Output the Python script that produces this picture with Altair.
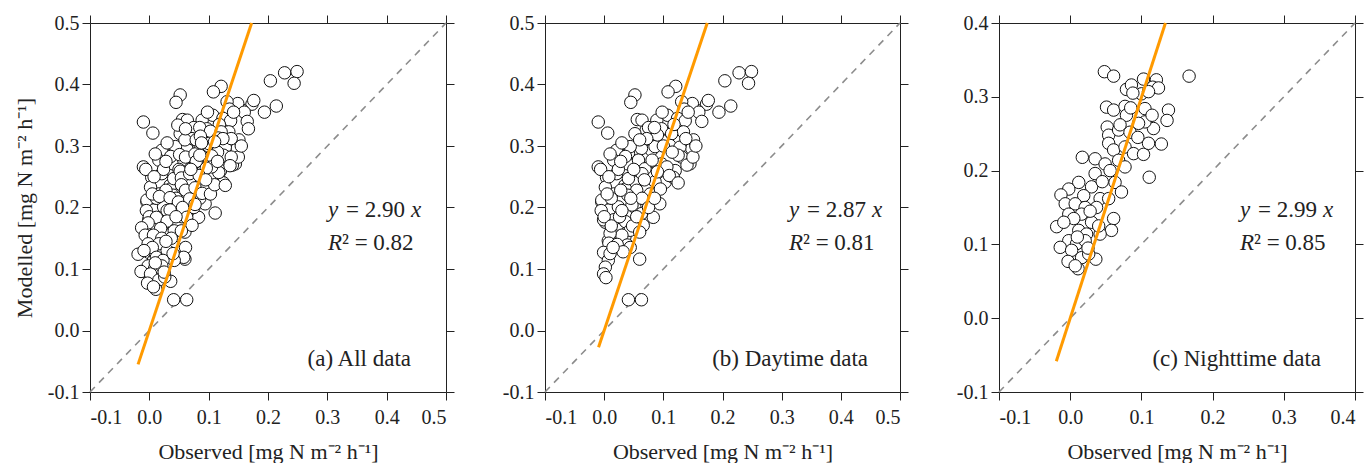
import altair as alt
import pandas as pd

# ---------------- data ----------------
# Daytime data (panel b)
B_X = [0.228, 0.249, 0.244, 0.204, 0.214, 0.194, 0.173, 0.176, 0.157, 0.149,
       0.121, 0.108, 0.131, 0.135, 0.052, 0.045, -0.010, 0.006, -0.010,
       0.056, 0.064, 0.089, 0.107, 0.124, 0.137, 0.071, 0.052, 0.097, 0.134, 0.114, 0.075,
       0.145, 0.148, 0.111, 0.080, 0.063, 0.021, 0.041, 0.097, 0.128, 0.044, 0.086, 0.151,
       0.040, 0.058, 0.097, 0.131, 0.145, 0.120, 0.083, 0.021, 0.004, 0.052, 0.069, 0.016,
       0.036, 0.081, 0.106, 0.140, -0.006, 0.024,
       0.035, 0.052, 0.016, 0.103, 0.117, 0.072, 0.002, 0.086, 0.036, 0.055, 0.078, 0.008,
       0.041, 0.064,
       0.002, 0.052, 0.094, 0.083, 0.063, 0.030, -0.004, 0.019, 0.008, 0.024, 0.047, 0.064,
       -0.004, 0.012, 0.040,
       0.002, 0.035, 0.066, 0.019, 0.007, 0.035, 0.024, 0.036, 0.016, -0.001, 0.044, 0.030,
       0.010, 0.048, 0.026,
       0.008, 0.039, 0.044, -0.001, 0.007, 0.002, -0.001, 0.003, 0.060, 0.041, 0.063, 0.010,
       0.090, 0.118, 0.100, 0.125, 0.150, 0.155, 0.138, 0.072, 0.060, 0.030,
       0.010, 0.028, 0.050, 0.090, 0.110, 0.125, 0.095, 0.068, 0.045, 0.028,
       0.005, -0.005, 0.000, 0.012, 0.030, 0.055, 0.075, 0.060, 0.022, 0.032,
       0.015, 0.085, 0.115, 0.160, 0.165, 0.142, 0.098, 0.085]
B_Y = [0.419, 0.421, 0.402, 0.406, 0.365, 0.355, 0.368, 0.374, 0.358, 0.369,
       0.397, 0.388, 0.372, 0.360, 0.383, 0.371, 0.339, 0.321, 0.266,
       0.343, 0.342, 0.342, 0.350, 0.345, 0.341, 0.326, 0.320, 0.328, 0.323, 0.320, 0.330,
       0.305, 0.296, 0.301, 0.293, 0.296, 0.293, 0.288, 0.309, 0.298, 0.299, 0.299, 0.310,
       0.271, 0.277, 0.271, 0.282, 0.271, 0.260, 0.255, 0.255, 0.249, 0.252, 0.263, 0.277,
       0.283, 0.277, 0.266, 0.269, 0.262, 0.262,
       0.236, 0.241, 0.222, 0.241, 0.249, 0.233, 0.233, 0.242, 0.230, 0.228, 0.222, 0.250,
       0.247, 0.255,
       0.195, 0.200, 0.206, 0.184, 0.190, 0.211, 0.209, 0.190, 0.196, 0.201, 0.204, 0.215,
       0.212, 0.215, 0.220,
       0.176, 0.168, 0.171, 0.162, 0.146, 0.152, 0.173, 0.177, 0.180, 0.180, 0.163, 0.155,
       0.158, 0.170, 0.185,
       0.142, 0.139, 0.135, 0.127, 0.114, 0.103, 0.092, 0.086, 0.116, 0.050, 0.050, 0.125,
       0.318, 0.335, 0.300, 0.285, 0.282, 0.300, 0.312, 0.312, 0.310, 0.305,
       0.287, 0.275, 0.262, 0.258, 0.252, 0.240, 0.230, 0.245, 0.215, 0.228,
       0.222, 0.195, 0.185, 0.170, 0.195, 0.185, 0.200, 0.160, 0.140, 0.128,
       0.135, 0.215, 0.290, 0.355, 0.340, 0.355, 0.355, 0.330]

# Nighttime data (panel c)
C_X = [0.048, 0.061, 0.167, 0.103, 0.121, 0.116, 0.124, 0.100, 0.079, 0.086, 0.110,
       0.051, 0.061, 0.077, 0.105, 0.138, 0.136, 0.117, 0.105, 0.079, 0.096,
       0.052, 0.054, 0.068, 0.084, 0.054, 0.061, 0.077, 0.089, 0.103, 0.110, 0.128, 0.111,
       0.017, 0.035, 0.049, 0.068, 0.077, 0.035, 0.056, 0.063, 0.072,
       0.012, -0.002, -0.013, 0.030, 0.019, 0.042, 0.054, -0.007, 0.007, 0.021, 0.037,
       -0.002, 0.016, 0.005, 0.030, 0.061, 0.058, 0.042, -0.019, -0.009, 0.012, 0.023,
       -0.002, -0.014, 0.009, 0.021, 0.002, 0.016, -0.003, 0.011, 0.036, 0.026, 0.007,
       0.028, 0.045, 0.040, 0.025, 0.085, 0.070, 0.095, 0.115, 0.088, 0.010]
C_Y = [0.334, 0.328, 0.328, 0.324, 0.323, 0.313, 0.312, 0.304, 0.310, 0.316, 0.307,
       0.286, 0.282, 0.287, 0.284, 0.282, 0.268, 0.257, 0.266, 0.275, 0.264,
       0.259, 0.248, 0.255, 0.252, 0.237, 0.228, 0.232, 0.223, 0.222, 0.237, 0.236, 0.191,
       0.218, 0.216, 0.209, 0.214, 0.205, 0.196, 0.200, 0.184, 0.171,
       0.184, 0.175, 0.167, 0.178, 0.166, 0.162, 0.162, 0.155, 0.155, 0.150, 0.150,
       0.141, 0.141, 0.135, 0.130, 0.135, 0.119, 0.114, 0.124, 0.130, 0.119, 0.114,
       0.105, 0.096, 0.101, 0.105, 0.092, 0.082, 0.077, 0.067, 0.080, 0.087, 0.071,
       0.145, 0.185, 0.125, 0.095, 0.285, 0.262, 0.245, 0.275, 0.305, 0.110]

# All data (panel a) = daytime + nighttime
A_X = B_X + C_X
A_Y = B_Y + C_Y

PANEL_X = [A_X, B_X, C_X]
PANEL_Y = [A_Y, B_Y, C_Y]
SLOPES = ["2.90", "2.87", "2.99"]
R2 = ["0.82", "0.81", "0.85"]
FIT_START = [-0.019, -0.0095, -0.0195]
AXIS_MIN = -0.1
AXIS_MAX = [0.5, 0.5, 0.4]
LABELS = ["(a) All data", "(b) Daytime data", "(c) Nighttime data"]
X_TITLE = "Observed [mg N m⁻² h⁻¹]"
Y_TITLE = "Modelled [mg N m⁻² h⁻¹]"

# ---------------- styling ----------------
FONT = "Liberation Serif"
W = [356, 355, 356]
H = 369
EQ_LEFT = [238, 244, 241]
LBL_RIGHT = [321, 323, 322]
ORANGE = "#FF9A00"
LABEL_EXPR = "replace(format(datum.value, '.1f'), '\u2212', '-')"


def panel(i):
    lo, hi = AXIS_MIN, AXIS_MAX[i]
    n = int(round((hi - lo) / 0.1))
    ticks = [round(lo + 0.1 * k, 1) for k in range(n + 1)]
    scale = alt.Scale(domain=[lo, hi], nice=False, zero=False)
    slope = float(SLOPES[i])

    pts = pd.DataFrame({"obs": PANEL_X[i], "mod": PANEL_Y[i]})
    diag = pd.DataFrame({"obs": [lo, hi], "mod": [lo, hi]})
    x0 = FIT_START[i]
    fit = pd.DataFrame({"obs": [x0, hi / slope], "mod": [slope * x0, hi]})

    ax_common = dict(values=ticks, grid=False, tickSize=8, tickColor="#222",
                     domainColor="#222", tickWidth=1, domainWidth=1,
                     labelFont=FONT, titleFont=FONT, labelFontSize=20,
                     titleFontSize=22, labelColor="#222", titleColor="#222",
                     titleFontWeight="normal")
    x_bottom = alt.Axis(orient="bottom", title=X_TITLE, labelExpr=LABEL_EXPR,
                        labelPadding=7, titlePadding=14, **ax_common)
    if i == 0:
        y_left = alt.Axis(orient="left", title=Y_TITLE, labelExpr=LABEL_EXPR,
                          labelPadding=3, titlePadding=11, **ax_common)
    else:
        y_left = alt.Axis(orient="left", title=None, labelExpr=LABEL_EXPR,
                          labelPadding=3, **ax_common)
    x_top = alt.Axis(orient="top", title=None, labels=False, **ax_common)
    y_right = alt.Axis(orient="right", title=None, labels=False, **ax_common)

    diag_layer = alt.Chart(diag).mark_line(
        color="#8c8c8c", strokeDash=[7, 6], strokeWidth=1.6
    ).encode(
        x=alt.X("obs:Q", scale=scale, axis=x_top),
        y=alt.Y("mod:Q", scale=scale, axis=y_right),
    )
    pts_layer = alt.Chart(pts).mark_point(
        shape="circle", filled=False, fill="white", fillOpacity=1, opacity=1,
        stroke="#111", strokeWidth=1, size=155
    ).encode(
        x=alt.X("obs:Q", scale=scale, axis=x_bottom),
        y=alt.Y("mod:Q", scale=scale, axis=y_left),
    )
    fit_layer = alt.Chart(fit).mark_line(color=ORANGE, strokeWidth=3).encode(
        x=alt.X("obs:Q", scale=scale, axis=None),
        y=alt.Y("mod:Q", scale=scale, axis=None),
    )

    def txt(s, x, y, italic=False, align="left"):
        kw = dict(font=FONT, fontSize=23, color="#222", align=align, baseline="middle")
        if italic:
            kw["fontStyle"] = "italic"
        return alt.Chart(pd.DataFrame({"t": [s]})).mark_text(**kw).encode(
            text="t:N", x=alt.value(x), y=alt.value(y))

    ex = EQ_LEFT[i]
    texts = [
        txt("y", ex, 187, italic=True),
        txt("= " + SLOPES[i], ex + 18, 187),
        txt("x", ex + 83, 187, italic=True),
        txt("R", ex, 220, italic=True),
        txt("\u00b2 = " + R2[i], ex + 14, 220),
        txt(LABELS[i], LBL_RIGHT[i], 336, align="right"),
    ]

    return alt.layer(diag_layer, pts_layer, fit_layer, *texts).resolve_axis(
        x="independent", y="independent"
    ).properties(width=W[i], height=H)


chart = alt.hconcat(panel(0), panel(1), panel(2), spacing=47).properties(
    padding={"left": 13, "top": 13, "right": 5, "bottom": 2},
    background="white",
).configure_view(stroke=None)

chart.save("out.html", embed_options={"renderer": "svg", "actions": False})
